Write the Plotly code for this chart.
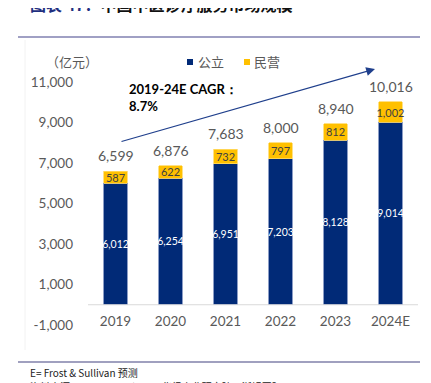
import plotly.graph_objects as go

years = ["2019", "2020", "2021", "2022", "2023", "2024E"]
public_vals = [6012, 6254, 6951, 7203, 8128, 9014]
private_vals = [587, 622, 732, 797, 812, 1002]
total_vals = [6599, 6876, 7683, 8000, 8940, 10016]
y_ticks = [-1000, 1000, 3000, 5000, 7000, 9000, 11000]

NAVY = "#012A77"
GOLD = "#FFC000"
GRAY = "#595959"
NUMFONT = "Lato, Open Sans, sans-serif"
CJK = "Noto Sans CJK SC"

# page body has an 8px default margin; work in screen pixels and convert
OFF = 8
W, H = 431, 383
L, R, T, B = 88 - OFF, 13 + OFF, 82 - OFF, 58 + OFF
ph = H - T - B
pw = W - L - R

def py(sy):
    return (H - B - (sy - OFF)) / ph

def px(sx):
    return ((sx - OFF) - L) / pw

fig = go.Figure()
fig.add_trace(go.Bar(
    x=years, y=public_vals, name="公立",
    marker=dict(color=NAVY, line=dict(color="#6F85B8", width=0.8)),
    width=0.42,
    text=[f"{v:,}" for v in public_vals], textposition="inside", textangle=0,
    insidetextanchor="middle", constraintext="none",
    textfont=dict(color="white", size=10.5, family=NUMFONT),
))
fig.add_trace(go.Bar(
    x=years, y=private_vals, name="民营",
    marker=dict(color=GOLD, line=dict(color="#FFD966", width=0.8)),
    width=0.42,
    text=[f"{v:,}" for v in private_vals], textposition="inside", textangle=0,
    insidetextanchor="middle", constraintext="none",
    textfont=dict(color="#404040", size=11, family=NUMFONT),
))

annotations = []
for i, tot in enumerate(total_vals):
    annotations.append(dict(x=i, y=tot, xref="x", yref="y", yanchor="bottom",
                            yshift=5, showarrow=False, text=f"{tot:,}",
                            font=dict(color=GRAY, size=14, family=NUMFONT)))

annotations += [
    dict(xref="paper", yref="paper", x=px(28), y=py(4), xanchor="left", yanchor="middle",
         showarrow=False,
         text="<b><span style='color:#1F2F80'>图表 47：</span>中国中医诊疗服务市场规模</b>",
         font=dict(family=CJK, size=16, color="#111111")),
    dict(xref="paper", yref="paper", x=px(44), y=py(62), xanchor="left", yanchor="middle",
         showarrow=False, text="（亿元）",
         font=dict(family=CJK, size=13, color=GRAY)),
    dict(xref="paper", yref="paper", x=px(196), y=py(62), xanchor="left", yanchor="middle",
         showarrow=False, text="公立",
         font=dict(family=CJK, size=13, color=GRAY)),
    dict(xref="paper", yref="paper", x=px(252), y=py(62), xanchor="left", yanchor="middle",
         showarrow=False, text="民营",
         font=dict(family=CJK, size=13, color=GRAY)),
    dict(xref="paper", yref="paper", x=px(127), y=py(97), xanchor="left", yanchor="middle",
         showarrow=False, align="left",
         text="<b>2019-24E CAGR：<br>8.7%</b>",
         font=dict(family=NUMFONT, size=13, color="#000000")),
    dict(xref="paper", yref="paper", x=px(375), y=py(69), showarrow=True,
         axref="pixel", ayref="pixel", ax=120 - 375, ay=142 - 69,
         arrowhead=2, arrowsize=1.6, arrowwidth=1.1, arrowcolor="#1F3F8C", text=""),
    dict(xref="paper", yref="paper", x=px(28), y=py(372), xanchor="left", yanchor="middle",
         showarrow=False, text="E= Frost &amp; Sullivan 预测",
         font=dict(family=CJK, size=10, color="#222222")),
    dict(xref="paper", yref="paper", x=px(28), y=py(386), xanchor="left", yanchor="middle",
         showarrow=False, text="资料来源：Frost &amp; Sullivan，华经产业研究院，浙银国际",
         font=dict(family=CJK, size=10, color="#222222")),
]

fig.update_layout(
    width=W, height=H,
    margin=dict(l=L, r=R, t=T, b=B),
    barmode="stack",
    plot_bgcolor="white", paper_bgcolor="white",
    showlegend=False,
    xaxis=dict(type="category", range=[-0.5, len(years) - 0.5],
               showline=False, showgrid=False, ticks="", zeroline=False,
               tickfont=dict(family=NUMFONT, size=13.5, color=GRAY),
               ticklabelstandoff=-14),
    yaxis=dict(range=[-1000, 11000], tickvals=y_ticks,
               ticktext=[f"{v:,}" for v in y_ticks],
               showgrid=False, zeroline=False, showline=False, ticks="",
               tickfont=dict(family=NUMFONT, size=13.5, color=GRAY),
               ticklabelstandoff=14),
    shapes=[
        dict(type="line", xref="paper", yref="y", x0=0, x1=1, y0=0, y1=0,
             line=dict(color="#D9D9D9", width=1)),
        dict(type="line", xref="paper", yref="paper", x0=px(18), x1=px(420),
             y0=py(37), y1=py(37), line=dict(color="#A0A0C4", width=2)),
        dict(type="line", xref="paper", yref="paper", x0=px(18), x1=px(420),
             y0=py(362), y1=py(362), line=dict(color="#8080AA", width=1.5)),
        dict(type="line", xref="paper", yref="paper", x0=px(25), x1=px(25),
             y0=py(40), y1=py(350), line=dict(color="#F2F2F2", width=1)),
        dict(type="rect", xref="paper", yref="paper", x0=px(187), x1=px(193),
             y0=py(59), y1=py(65), line=dict(width=0), fillcolor=NAVY),
        dict(type="rect", xref="paper", yref="paper", x0=px(244), x1=px(250),
             y0=py(59), y1=py(65), line=dict(width=0), fillcolor=GOLD),
    ],
    annotations=annotations,
)

fig.write_html("out.html")
